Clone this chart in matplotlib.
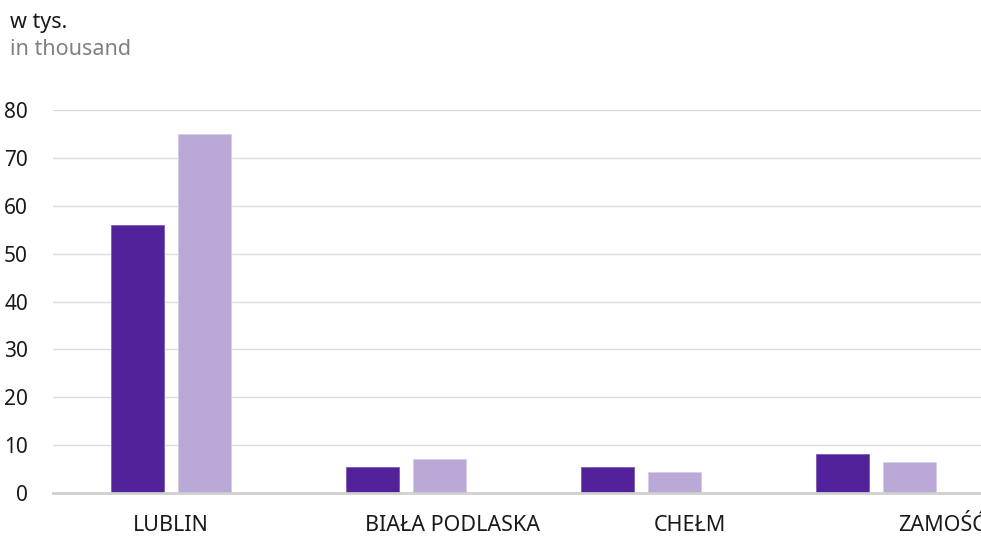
import numpy as np
import matplotlib.pyplot as plt

# ==========================================
# Data
# ==========================================

regions = ["LUBLIN", "BIAŁA PODLASKA", "CHEŁM", "ZAMOŚĆ"]
series_dark = [56.0, 5.4, 5.5, 8.1]
series_light = [75.0, 7.1, 4.3, 6.5]
y_ticks = [0, 10, 20, 30, 40, 50, 60, 70, 80]

# label positions drift right of the bar groups in the original
label_shift = [0.0, 0.20, 0.21, 0.28]

dark_color = "#52229a"
light_color = "#baa8d6"

plt.rcParams["font.family"] = ["Noto Sans", "DejaVu Sans"]

# ==========================================
# Figure
# ==========================================

fig = plt.figure(figsize=(9.81, 5.38), dpi=100)
ax = fig.add_axes([0.054, 0.0836, 0.946, 0.7119])

x = np.arange(len(regions))
w = 0.226
off = 0.1426

ax.bar(x - off, series_dark, width=w, color=dark_color,
       edgecolor="#7a5bb3", linewidth=0.6, zorder=3)
ax.bar(x + off, series_light, width=w, color=light_color,
       edgecolor="#d6cbe8", linewidth=0.6, zorder=3)

ax.set_xlim(-0.502, 3.447)
ax.set_ylim(0, 80)

ax.set_yticks(y_ticks)
ax.yaxis.grid(True, color="#dcdcdc", linewidth=1.0, zorder=0)
ax.set_axisbelow(True)

ax.set_xticks(x + np.array(label_shift))
ax.set_xticklabels(regions)

for s in ["top", "right", "left"]:
    ax.spines[s].set_visible(False)
ax.spines["bottom"].set_color("#cfcfcf")
ax.spines["bottom"].set_linewidth(2.0)
ax.spines["bottom"].set_zorder(4)

ax.tick_params(axis="y", length=0, pad=18, labelsize=15, labelcolor="#1a1a1a")
ax.tick_params(axis="x", length=0, pad=16, labelsize=15.5, labelcolor="#1a1a1a")

fig.text(0.010, 0.948, "w tys.", fontsize=15.5, color="#1a1a1a",
         ha="left", va="baseline")
fig.text(0.010, 0.898, "in thousand", fontsize=15.5, color="#808080",
         ha="left", va="baseline")

fig.savefig("out.png", dpi=100)
